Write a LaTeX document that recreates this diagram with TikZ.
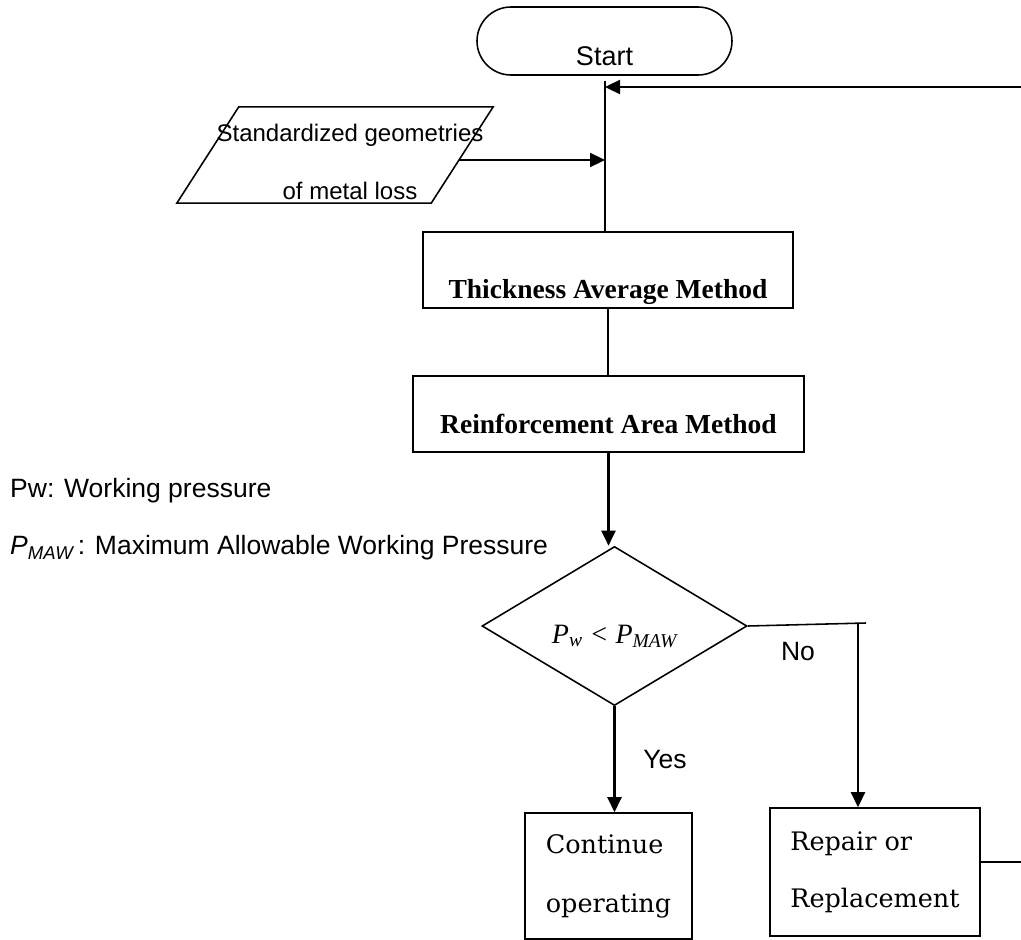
\documentclass[tikz,border=0pt]{standalone}
\usepackage{fontspec}
\newfontfamily\arialfont{Liberation Sans}
\newfontfamily\timesfont{Liberation Serif}
\newfontfamily\schoolfont{DejaVu Serif}
\usetikzlibrary{shapes.geometric,arrows.meta}

\tikzset{
	flowline/.style={line width=0.8mm},
	thinline/.style={line width=0.55mm},
	flowarrow/.style={line width=0.8mm, -{Triangle[length=15pt,width=14pt]}},
	termbox/.style={draw, line width=0.55mm, rounded corners=34pt, minimum width=255pt, minimum height=68pt, inner sep=0pt, font=\arialfont\fontsize{27}{32}\selectfont, text height=48pt, text depth=0pt},
	methodbox/.style={draw, line width=0.55mm, minimum height=76pt, inner sep=0pt, font=\timesfont\bfseries\fontsize{27.5}{32}\selectfont, text depth=0pt},
	iobox/.style={minimum width=316pt, minimum height=96pt, inner sep=0pt},
	decision/.style={draw, line width=0.55mm, diamond, minimum width=265pt, minimum height=144pt, inner sep=0pt, font=\timesfont\itshape\fontsize{28}{32}\selectfont, text height=34pt, text depth=0pt},
	endbox/.style={draw, line width=0.55mm, inner sep=0pt, align=left},
	sanstext/.style={font=\arialfont\fontsize{26.5}{30}\selectfont, inner sep=0pt}
}

\begin{document}
\begin{tikzpicture}[x=1pt, y=-1pt]
		%%%%% START %%%%%
		\useasboundingbox (0,0) rectangle (1021,940);
		
		\node[termbox] (start) at (604.5,41) {Start};
		\coordinate (jtop) at (605,81);
		\coordinate (fbin) at (1021,87);
		
		% input parallelogram
		\node[iobox] (geo) at (335,155) {};
		\draw[thinline] ([xshift=62pt]geo.north west) -- (geo.north east) -- ([xshift=-62pt]geo.south east) -- (geo.south west) -- cycle;
		\node[sanstext, font=\arialfont\fontsize{24}{58}\selectfont, align=center] (geotext) at (350,162) {Standardized geometries\\of metal loss};
		\coordinate (geoout) at ([xshift=-34pt,yshift=-5pt]geo.east);
		
		\node[methodbox, minimum width=370pt, text height=56pt] (thick) at (608,270) {Thickness Average Method};
		\node[methodbox, minimum width=391pt, text height=38pt] (reinf) at (608.5,414) {Reinforcement Area Method};
		
		\node[decision] (dia) at (614.5,626) {P\textsubscript{w} < P\textsubscript{MAW}};
		\coordinate (ncorner) at (858,624);
		\coordinate (nend) at (866,623);
		
		\node[endbox, minimum width=167pt, minimum height=126pt, font=\schoolfont\fontsize{25.5}{59}\selectfont] (cont) at (608.5,876) {Continue\\operating};
		\node[endbox, minimum width=210pt, minimum height=128pt, font=\schoolfont\fontsize{25.5}{57}\selectfont] (repair) at (875,872) {Repair or\\Replacement};
		\coordinate (rpout) at (1021,862);
		
		% legend
		\node[sanstext, anchor=west] (lgw) at (10,491) {Pw: Working pressure};
		\node[sanstext, anchor=west] (lgmaw) at (10,548) {\itshape P\textsubscript{MAW}\upshape\,: Maximum Allowable Working Pressure};
		
		% connectors
		\draw[flowline] (jtop) -- (jtop |- thick.north);
		\draw[flowarrow] (fbin) -- (jtop |- fbin);
		\draw[flowarrow] (geoout) -- (jtop |- geoout);
		\draw[flowline] (thick.south) -- (thick.south |- reinf.north);
		\draw[flowarrow] (reinf.south) -- (reinf.south |- dia.north);
		
		\draw[thinline] (dia.east) -- (nend);
		\draw[flowarrow] (ncorner) -- (ncorner |- repair.north);
		\node[sanstext] (nolabel) at (798,652) {No};
		
		\draw[flowarrow] (dia.south) -- (dia.south |- cont.north);
		\node[sanstext] (yeslabel) at (665,760) {Yes};
		
		\draw[thinline] ([yshift=10pt]repair.east) -- (rpout);
		
		%%%%% END %%%%%
\end{tikzpicture}
\end{document}
